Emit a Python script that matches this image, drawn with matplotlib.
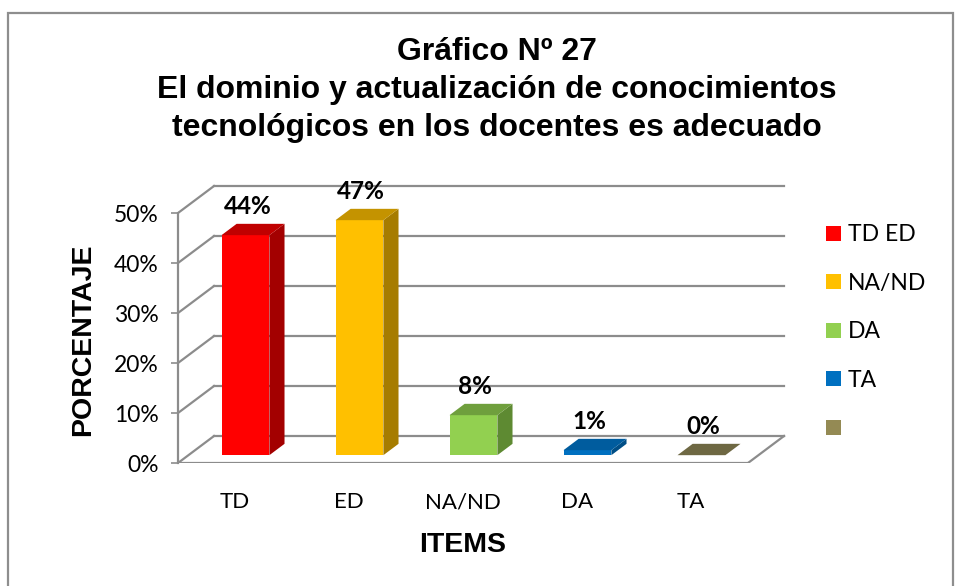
import matplotlib
matplotlib.use("Agg")
import matplotlib.pyplot as plt
from matplotlib.patches import Polygon, Patch, Rectangle
from matplotlib.ticker import PercentFormatter

# data
categories = ['TD', 'ED', 'NA/ND', 'DA', 'TA']
values = [0.44, 0.47, 0.08, 0.01, 0.00]
legend_labels = ['TD ED', 'NA/ND', 'DA', 'TA', '']
yticks = [0, 0.1, 0.2, 0.3, 0.4, 0.5]

front_colors = ['#FF0000', '#FFC000', '#92D050', '#0070C0', '#948A54']
side_colors = ['#A30000', '#A67C00', '#5E8A32', '#004E86', '#6B643C']
top_colors = ['#C00000', '#C49300', '#6F9F3D', '#005C9E', '#6E6843']

plt.rcParams['font.family'] = ['Lato', 'DejaVu Sans']
GRID = '#8C8C8C'

fig = plt.figure(figsize=(9.61, 5.86), dpi=100)
# figure border
fig.patches.append(Rectangle((8 / 961, -0.05), 945 / 961, 1.05 - 13 / 586,
                             transform=fig.transFigure, fill=False,
                             edgecolor='#8E8E8E', linewidth=1.6))

ax = fig.add_axes([178 / 961, 123 / 586, 615.6 / 961, 280 / 586])
ax.set_xlim(-0.5, 4.9)
ax.set_ylim(0, 0.56)
ax.patch.set_visible(False)

# depth of the box (x in category units, y in value units)
DX, DY = 0.316, 0.054
d0, d1 = 0.29, 0.71   # bar depth span
bw = 0.42
n = len(categories)

# walls and floor
for t in yticks:
    ax.plot([-0.5 + DX, n - 0.5 + DX], [t + DY, t + DY], color=GRID, lw=1.6, zorder=1)
    ax.plot([-0.5, -0.5 + DX], [t, t + DY], color=GRID, lw=1.6, zorder=1)
ax.plot([-0.5, n - 0.5], [0, 0], color=GRID, lw=1.6, zorder=1)
ax.plot([n - 0.5, n - 0.5 + DX], [0, DY], color=GRID, lw=1.6, zorder=1)

# 3d-looking bars
for i, v in enumerate(values):
    xl = i - bw / 2 + d0 * DX
    xr = i + bw / 2 + d0 * DX
    y0 = d0 * DY
    ox, oy = (d1 - d0) * DX, (d1 - d0) * DY
    front = [(xl, y0), (xr, y0), (xr, y0 + v), (xl, y0 + v)]
    side = [(xr, y0), (xr + ox, y0 + oy), (xr + ox, y0 + oy + v), (xr, y0 + v)]
    top = [(xl, y0 + v), (xr, y0 + v), (xr + ox, y0 + oy + v), (xl + ox, y0 + oy + v)]
    ax.add_patch(Polygon(side, closed=True, facecolor=side_colors[i], edgecolor='none', zorder=3))
    ax.add_patch(Polygon(front, closed=True, facecolor=front_colors[i], edgecolor='none', zorder=3))
    ax.add_patch(Polygon(top, closed=True, facecolor=top_colors[i], edgecolor='none', zorder=3))
    ax.annotate(f'{v:.0%}', (i + 0.5 * (d0 + d1) * DX - 0.05, y0 + oy + v),
                xytext=(0, 4), textcoords='offset points', ha='center', va='bottom',
                fontsize=17.5, fontweight='bold', zorder=4)

# axes
for s in ['top', 'right', 'bottom']:
    ax.spines[s].set_visible(False)
ax.spines['left'].set_bounds(0, 0.5)
ax.spines['left'].set_color(GRID)
ax.spines['left'].set_linewidth(1.6)
ax.set_yticks(yticks)
ax.yaxis.set_major_formatter(PercentFormatter(1.0, decimals=0))
ax.tick_params(axis='y', length=5, width=1.2, color=GRID, labelsize=16.5, pad=9)
ax.set_xticks(range(n))
ax.set_xticklabels(categories)
ax.tick_params(axis='x', length=0, labelsize=16, pad=21)

fig.text(83 / 961, 1 - 340 / 586, 'PORCENTAJE', rotation=90, ha='center', va='center',
         fontsize=20.5, fontweight='bold', family='Liberation Sans')
fig.text(463 / 961, 1 - 545 / 586, 'ITEMS', ha='center', va='center',
         fontsize=20.5, fontweight='bold', family='Liberation Sans')
fig.text(497 / 961, 1 - 90 / 586,
         'Gráfico Nº 27\nEl dominio y actualización de conocimientos\n'
         'tecnológicos en los docentes es adecuado',
         ha='center', va='center', multialignment='center', linespacing=1.36,
         fontsize=23, fontweight='bold', family='Liberation Sans')

handles = [Patch(facecolor=c, edgecolor='none') for c in front_colors]
fig.legend(handles, legend_labels, loc='upper left',
           bbox_to_anchor=(815 / 961, 1 - 213 / 586), frameon=False,
           fontsize=16.5, handlelength=0.62, handleheight=0.62, handletextpad=0.3,
           labelspacing=1.2, borderpad=0)

fig.savefig('out.png', dpi=100)
